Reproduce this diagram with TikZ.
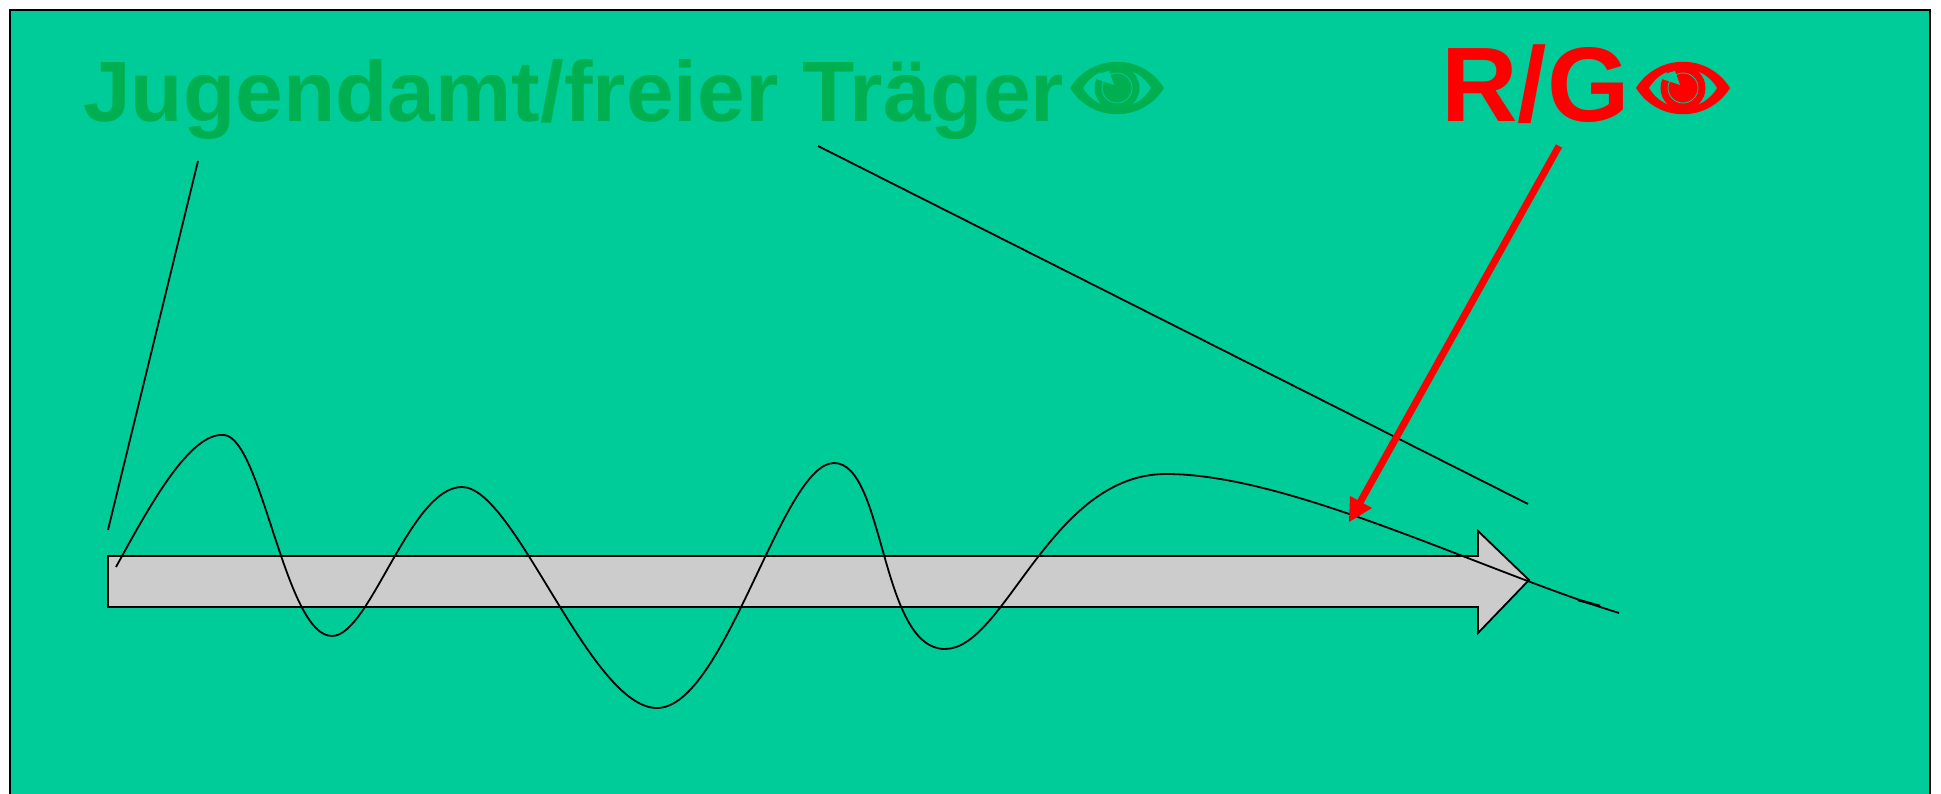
\documentclass[tikz,border=0pt]{standalone}
\usepackage{fontspec}
\setmainfont{Liberation Sans}
\definecolor{bgg}{RGB}{0,204,153}
\definecolor{dkg}{RGB}{0,176,80}
\definecolor{arrowgray}{RGB}{204,204,204}
\tikzset{
  thinline/.style={draw=black,line width=1.8pt},
  title/.style={font=\bfseries,inner sep=0pt,anchor=base west},
  pics/eye/.style={code={
    \fill[#1] (-47,0) .. controls (-25,-35) and (25,-35) .. (47,0) .. controls (25,35) and (-25,35) .. (-47,0) -- cycle;
    \fill[bgg] (-34,0) .. controls (-18,-26) and (18,-26) .. (34,0) .. controls (18,26) and (-18,26) .. (-34,0) -- cycle;
    \fill[#1] (0,0) circle (22.5);
    \draw[bgg,line width=0.8pt] (0,0) circle (15);
    \fill[bgg] (-3,-3) -- (-21,-9) -- (-19,-14) -- (-8,-17) -- cycle;
  }}
}
\begin{document}
\begin{tikzpicture}[x=1pt,y=-1pt]
\useasboundingbox (0,0) rectangle (1941,794);
\fill[white] (0,0) rectangle (1941,794);
\fill[bgg] (10,10) rectangle (1930,794);
\draw[black,line width=2.5pt] (10,794) -- (10,10) -- (1930,10) -- (1930,794);
\node[title,text=dkg,font=\bfseries\fontsize{85.7}{88}\selectfont] (t1) at (83,122) {Jugendamt/freier Träger};
\node[title,text=red,font=\bfseries\fontsize{106}{106}\selectfont] (t2) at (1441,122) {R/G};
\pic at (1117,88) {eye=dkg};
\pic at (1683,88) {eye=red};
% block arrow
\draw[fill=arrowgray,line width=1.8pt] (108,556) -- (1478,556) -- (1478,531) -- (1529,580) -- (1478,633) -- (1478,607) -- (108,607) -- cycle;
% free ends
\coordinate (a1) at (198,161); \coordinate (a2) at (108,530);
\coordinate (b1) at (818,146); \coordinate (b2) at (1528,504);
\coordinate (c1) at (1559,146); \coordinate (c2) at (1349,522);
\draw[thinline] (a1) -- (a2);
\draw[thinline] (b1) -- (b2);
% wave
\draw[thinline] (116,567)
  .. controls (150,505) and (190,432) .. (224,435)
  .. controls (262,438) and (285,636) .. (332,636)
  .. controls (370,636) and (410,487) .. (462,487)
  .. controls (515,487) and (590,708) .. (657,708)
  .. controls (725,708) and (782,463) .. (834,463)
  .. controls (885,463) and (880,649) .. (945,649)
  .. controls (1005,649) and (1050,474) .. (1166,474)
  .. controls (1290,474) and (1480,570) .. (1619,613);
\draw[thinline,line width=2.5pt] (1578,600) -- (1600,606);
% red arrow
\draw[red,line width=7pt] (c1) -- (1358,506);
\fill[red] (c2) -- (1350,496) -- (1372,508) -- cycle;
\end{tikzpicture}
\end{document}
